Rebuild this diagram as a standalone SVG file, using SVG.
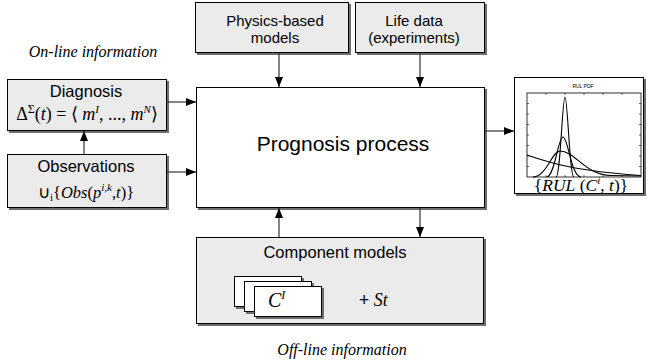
<svg xmlns="http://www.w3.org/2000/svg" width="652" height="363" viewBox="0 0 652 363">
<style>
.box{fill:#ebebeb;stroke:#000;stroke-width:1}
.wbox{fill:#fff;stroke:#000;stroke-width:1}
.sh{fill:#6e6e6e}
.lbl{font-family:"Liberation Sans",Arial,sans-serif;font-size:16.5px;fill:#000;text-anchor:middle}
.lbl2{font-family:"Liberation Sans",Arial,sans-serif;font-size:15px;fill:#000;text-anchor:middle}
.math{font-family:"Liberation Serif","Times New Roman",serif;fill:#000;text-anchor:middle}
.it{font-style:italic}
.cap{font-family:"Liberation Serif","Times New Roman",serif;font-style:italic;font-size:16px;fill:#000;text-anchor:middle}
.conn line{stroke:#333;stroke-width:1.2;marker-end:url(#ah)}
.curve{fill:none;stroke:#000;stroke-width:1.1}
.tick{stroke:#000;stroke-width:0.6}
</style>
<defs>
<marker id="ah" viewBox="0 0 10 8" refX="10" refY="4" markerWidth="10" markerHeight="8" markerUnits="userSpaceOnUse" orient="auto">
<path d="M0,0 L10,4 L0,8 z" fill="#000"/>
</marker>
</defs>
<rect width="652" height="363" fill="#fff"/>

<text class="cap" x="93" y="57">On-line information</text>
<text class="cap" x="342" y="355">Off-line information</text>

<g id="physics">
<rect class="sh" x="197" y="4" width="154" height="51"/>
<rect class="box" x="195.5" y="2.5" width="153" height="50"/>
<text class="lbl2" x="275" y="26">Physics-based</text>
<text class="lbl2" x="275" y="43">models</text>
</g>

<g id="lifedata">
<rect class="sh" x="357" y="4" width="130" height="51"/>
<rect class="box" x="355.5" y="2.5" width="129" height="50"/>
<text class="lbl2" x="414" y="26">Life data</text>
<text class="lbl2" x="414" y="43">(experiments)</text>
</g>

<g id="diagnosis">
<rect class="sh" x="9" y="81" width="160" height="52"/>
<rect class="box" x="7.5" y="79.5" width="159" height="51"/>
<text class="lbl" x="86" y="97">Diagnosis</text>
<text class="math" x="87" y="120" font-size="18">Δ<tspan font-size="12" dy="-7">Σ</tspan><tspan dy="7">(</tspan><tspan class="it">t</tspan>) = ⟨ <tspan class="it">m</tspan><tspan class="it" font-size="11" dy="-7">I</tspan><tspan dy="7">, ..., </tspan><tspan class="it">m</tspan><tspan class="it" font-size="11" dy="-7">N</tspan><tspan dy="7">⟩</tspan></text>
</g>

<g id="observations">
<rect class="sh" x="9" y="156" width="160" height="54"/>
<rect class="box" x="7.5" y="154.5" width="159" height="53"/>
<text class="lbl" x="86" y="172">Observations</text>
<text class="math" x="86" y="198" font-size="16.5">∪<tspan font-size="11" dy="3">i</tspan><tspan dy="-3">{</tspan><tspan class="it">Obs</tspan>(<tspan class="it">p</tspan><tspan class="it" font-size="11" dy="-7">i,k</tspan><tspan dy="7">,</tspan><tspan class="it">t</tspan>)}</text>
</g>

<g id="prognosis">
<rect class="sh" x="198" y="89" width="289" height="121"/>
<rect class="wbox" x="196.5" y="87.5" width="288" height="120"/>
<text class="lbl" x="343" y="151" style="font-size:21px">Prognosis process</text>
</g>

<g id="result">
<rect class="sh" x="516" y="79" width="130" height="117"/>
<rect class="wbox" x="514.5" y="77.5" width="129" height="116"/>
<text x="583" y="88" font-family="Liberation Sans, Arial, sans-serif" font-size="5" text-anchor="middle">RUL PDF</text>
<rect x="527" y="93" width="114" height="84" fill="#fff" stroke="#000" stroke-width="0.8"/>
<g class="tick">
<path d="M546,93v2M565,93v2M584,93v2M603,93v2M622,93v2M546,177v-2M565,177v-2M584,177v-2M603,177v-2M622,177v-2"/>
<path d="M527,103.5h2M527,114h2M527,124.5h2M527,135h2M527,145.5h2M527,156h2M527,166.5h2M641,103.5h-2M641,114h-2M641,124.5h-2M641,135h-2M641,145.5h-2M641,156h-2M641,166.5h-2"/>
</g>
<path class="curve" d="M556,177 C560.5,177 562.3,97 565,97 C567.7,97 569.5,177 574,177"/>
<path class="curve" d="M546.5,177 C554.75,177 558,137 563,137 C568,137 571.25,177 581,177"/>
<path class="curve" d="M533,177 C546.5,177 551.9,151 560,151 C575.3,151 584.5,175 611,175.5 L641,176"/>
<path class="curve" d="M527,155 C550,163 575,171 641,175.5"/>
<text class="math" x="581" y="191" font-size="17.5">{<tspan class="it">RUL</tspan> (<tspan class="it">C</tspan><tspan class="it" font-size="11" dy="-7">i</tspan><tspan dy="7">, </tspan><tspan class="it">t</tspan>)}</text>
</g>

<g id="components">
<rect class="sh" x="198" y="239" width="288" height="87"/>
<rect class="box" x="196.5" y="237.5" width="287" height="86"/>
<text class="lbl" x="335" y="258">Component models</text>
<rect class="sh" x="236" y="278" width="68" height="31"/>
<rect class="wbox" x="234.5" y="276.5" width="67" height="30"/>
<rect class="sh" x="246" y="283" width="68" height="31"/>
<rect class="wbox" x="244.5" y="281.5" width="67" height="30"/>
<rect class="sh" x="256" y="288" width="68" height="31"/>
<rect class="wbox" x="254.5" y="286.5" width="67" height="30"/>
<text class="math it" x="268" y="307" font-size="20" style="text-anchor:start">C<tspan font-size="12" dy="-8">I</tspan></text>
<text class="math" x="359" y="306" font-size="18" style="text-anchor:start"><tspan font-weight="bold">+</tspan> <tspan class="it">St</tspan></text>
</g>

<g id="connectors" class="conn">
<line x1="84" y1="154" x2="84" y2="131"/>
<line x1="167" y1="102" x2="196" y2="102"/>
<line x1="167" y1="172" x2="196" y2="172"/>
<line x1="279" y1="53" x2="279" y2="87"/>
<line x1="420" y1="53" x2="420" y2="87"/>
<line x1="279" y1="237" x2="279" y2="208"/>
<line x1="420" y1="208" x2="420" y2="237"/>
<line x1="485" y1="131" x2="514" y2="131"/>
</g>
</svg>
